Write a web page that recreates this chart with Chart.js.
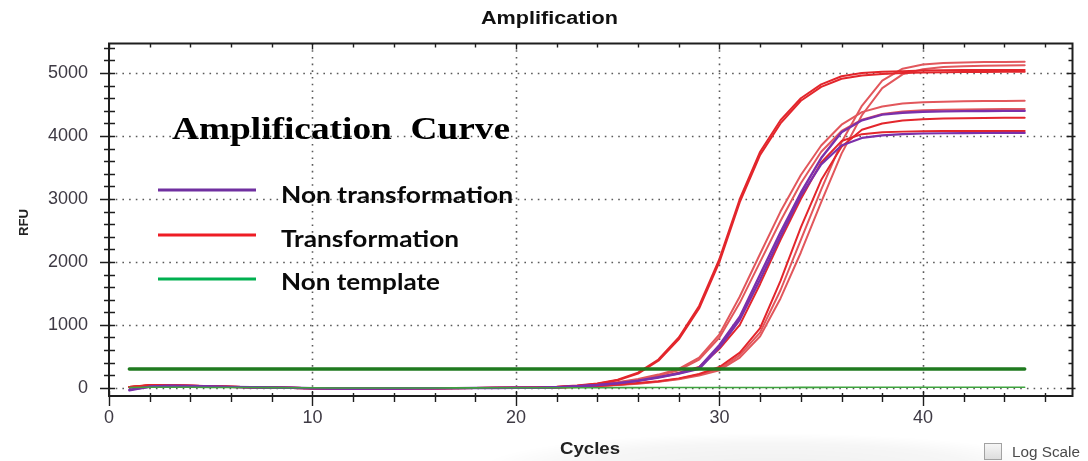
<!DOCTYPE html>
<html>
<head>
<meta charset="utf-8">
<title>Amplification</title>
<script src="https://cdn.jsdelivr.net/npm/chart.js@4.4.1/dist/chart.umd.min.js"></script>
<style>
  html, body { margin: 0; padding: 0; background: #ffffff; }
  #wrap { position: relative; width: 1088px; height: 461px; }
  canvas { display: block; }
</style>
</head>
<body>
<div id="wrap"><canvas id="amp" width="1088" height="461"></canvas></div>
<script>
// ---- qPCR amplification data (RFU per cycle) ----
const cycles = [1,2,3,4,5,6,7,8,9,10,11,12,13,14,15,16,17,18,19,20,21,22,23,24,25,26,27,28,29,30,31,32,33,34,35,36,37,38,39,40,41,42,43,44,45];

// Transformation wells (red)
const transA1 = [15,45,40,35,25,15,10,5,0,-5,-10,-10,-10,-8,-8,-5,-5,-3,0,2, 5,15,35,70,130,240,450,800,1300,2050,3000,3750,4250,4600,4820,4950,5000,5020,5030,5040,5045,5048,5050,5050,5050];
const transA2 = [10,40,42,33,24,16,9,4,-2,-6,-12,-12,-10,-10,-8,-6,-4,-2,0,3, 4,12,30,65,120,225,430,770,1260,2000,2950,3700,4200,4560,4780,4910,4960,4985,5000,5008,5013,5016,5018,5020,5020];
const transB1 = [12,35,38,30,22,14,9,4,-1,-5,-9,-11,-11,-9,-8,-6,-4,-3,-1,1, 0,12,30,55,90,140,210,300,480,850,1450,2130,2800,3380,3850,4180,4380,4470,4515,4535,4545,4552,4556,4558,4560];
const transB2 = [8,30,36,32,23,15,8,3,-2,-7,-11,-12,-11,-10,-9,-7,-5,-3,-1,0, 0,10,28,50,85,130,195,280,450,800,1350,2000,2650,3250,3750,4080,4260,4350,4390,4410,4418,4423,4426,4428,4430];
const transR1 = [14,38,36,30,22,14,9,5,0,-5,-9,-10,-10,-9,-7,-5,-4,-2,0,1, 0,10,25,45,75,115,170,240,330,620,1000,1650,2350,3000,3580,3920,4030,4060,4070,4075,4078,4080,4080,4080,4080];
const transC1 = [10,35,34,30,24,16,10,5,0,-6,-10,-11,-11,-9,-8,-6,-4,-3,-1,0, 0,5,15,30,50,75,105,150,220,330,560,950,1700,2550,3300,3830,4100,4200,4245,4265,4278,4284,4287,4289,4290];
const transC2 = [12,40,38,31,23,15,9,4,-1,-6,-10,-11,-10,-9,-8,-6,-4,-2,0,1, 0,5,14,28,48,72,100,145,210,300,520,880,1550,2350,3150,3900,4480,4880,5070,5135,5160,5170,5176,5178,5180];
const transC3 = [9,33,35,29,21,14,8,3,-2,-7,-11,-12,-11,-10,-8,-6,-5,-3,-1,0, 0,4,12,25,44,66,95,135,195,280,480,820,1420,2150,2950,3720,4330,4760,4980,5060,5095,5110,5118,5122,5125];

// Non transformation wells (purple)
const nonTransP1 = [-40,20,32,30,22,15,8,4,0,-6,-10,-12,-10,-10,-8,-6,-5,-3,-2,0, 0,10,25,45,75,115,170,230,320,680,1130,1800,2470,3100,3650,4060,4250,4340,4370,4385,4392,4396,4398,4400,4400];
const nonTransP2 = [-30,15,28,28,20,13,7,3,-1,-7,-11,-12,-11,-9,-8,-6,-4,-3,-1,0, 0,8,22,42,70,108,160,225,300,640,1080,1720,2400,3050,3550,3850,3970,4010,4030,4040,4044,4047,4048,4050,4050];

// Non template control (green)
const nonTemplate = [5,8,10,8,6,5,4,3,2,0,-2,-3,-3,-3,-2,-2,-1,-1,0,0, 0,1,2,2,3,3,4,4,5,5,5,6,6,7,7,8,8,8,9,9,10,10,10,10,10];

// Threshold line
const thresholdRFU = 300;
const thresholdCycles = [1, 45];

// Axis ticks
const xTickValues = [0, 10, 20, 30, 40];
const yTickValues = [0, 1000, 2000, 3000, 4000, 5000];
const xMinorStep = 2;
const yMinorStep = 200;

// Legend
const legendLabels = ["Non transformation", "Transformation", "Non template"];
const legendColors = ["#7030a0", "#ee1c24", "#00b050"];

const RED = "#e3262c";
const PINK = "#e2575c";
const PURPLE = "#7b30aa";

function toPoints(values) {
  return values.map((v, i) => ({ x: cycles[i], y: v }));
}

function curve(values, color, width) {
  return {
    data: toPoints(values),
    borderColor: color,
    borderWidth: width,
    pointRadius: 0,
    tension: 0,
    fill: false
  };
}

const datasets = [
  {
    data: thresholdCycles.map(c => ({ x: c, y: thresholdRFU })),
    borderColor: "#1f7a1f",
    borderWidth: 3.5,
    pointRadius: 0,
    fill: false
  },
  curve(nonTemplate, "#3fa33f", 1.6),
  curve(nonTransP1, PURPLE, 2.4),
  curve(nonTransP2, PURPLE, 2.2),
  curve(transA1, RED, 2),
  curve(transA2, RED, 2),
  curve(transB1, PINK, 2),
  curve(transB2, PINK, 2),
  curve(transR1, RED, 2),
  curve(transC1, RED, 2),
  curve(transC2, PINK, 2),
  curve(transC3, PINK, 2)
];

// Draws text with a horizontal scale so it spans a given width
function fitText(ctx, text, x, y, width, font, color) {
  ctx.save();
  ctx.font = font;
  ctx.fillStyle = color;
  ctx.textAlign = "left";
  ctx.textBaseline = "alphabetic";
  const w = ctx.measureText(text).width;
  ctx.translate(x, y);
  ctx.scale(width / w, 1);
  ctx.fillText(text, 0, 0);
  ctx.restore();
}

// Soft grey swoosh behind the x-axis title
const backdrop = {
  id: "backdrop",
  beforeDraw(chart) {
    const { ctx } = chart;
    ctx.save();
    ctx.translate(770, 468);
    ctx.scale(1, 0.12);
    const rg = ctx.createRadialGradient(0, 0, 0, 0, 0, 290);
    rg.addColorStop(0, "rgba(0,0,0,0.06)");
    rg.addColorStop(0.7, "rgba(0,0,0,0.035)");
    rg.addColorStop(1, "rgba(0,0,0,0)");
    ctx.fillStyle = rg;
    ctx.beginPath();
    ctx.arc(0, 0, 290, 0, Math.PI * 2);
    ctx.fill();
    ctx.restore();
  }
};

// Dotted grid at the labelled ticks
const dottedGrid = {
  id: "dottedGrid",
  beforeDatasetsDraw(chart) {
    const { ctx, chartArea: a, scales: { x, y } } = chart;
    ctx.save();
    ctx.strokeStyle = "#5a5a5a";
    ctx.lineWidth = 1.6;
    ctx.setLineDash([1.6, 5.1]);
    xTickValues.forEach(v => {
      const px = Math.round(x.getPixelForValue(v)) + 0.5;
      if (px <= a.left + 2) return;
      ctx.beginPath();
      ctx.moveTo(px, a.top);
      ctx.lineTo(px, a.bottom);
      ctx.stroke();
    });
    yTickValues.forEach(v => {
      const py = Math.round(y.getPixelForValue(v)) + 0.5;
      ctx.beginPath();
      ctx.moveTo(a.left, py);
      ctx.lineTo(a.right, py);
      ctx.stroke();
    });
    ctx.restore();
  }
};

// Frame, tick marks, titles, legend and the log-scale box
const decorations = {
  id: "decorations",
  afterDraw(chart) {
    const { ctx, chartArea: a, scales: { x, y } } = chart;
    ctx.save();
    ctx.strokeStyle = "#1e1e1e";
    ctx.lineWidth = 1.4;

    // x ticks (bottom and top)
    for (let v = 0; v <= x.max; v += xMinorStep) {
      const px = Math.round(x.getPixelForValue(v)) + 0.5;
      const major = v % 10 === 0;
      ctx.beginPath();
      ctx.moveTo(px, a.bottom - (major ? 5 : 3));
      ctx.lineTo(px, a.bottom + (major ? 10 : 6));
      ctx.moveTo(px, a.top);
      ctx.lineTo(px, a.top + (major ? 6 : 4));
      ctx.stroke();
    }
    // y ticks (left and right)
    for (let v = 0; v <= y.max; v += yMinorStep) {
      const py = Math.round(y.getPixelForValue(v)) + 0.5;
      const major = v % 1000 === 0;
      ctx.beginPath();
      ctx.moveTo(a.left - (major ? 9 : 5), py);
      ctx.lineTo(a.left + 6, py);
      ctx.moveTo(a.right - (major ? 6 : 4), py);
      ctx.lineTo(a.right + (major ? 3 : 0), py);
      ctx.stroke();
    }

    // frame
    ctx.lineWidth = 2;
    ctx.strokeRect(a.left, a.top, a.right - a.left, a.bottom - a.top);
    ctx.restore();

    // chart title and axis titles
    fitText(ctx, "Amplification", 481, 24, 137, "bold 18px 'Liberation Sans', Arial, sans-serif", "#111111");
    fitText(ctx, "Cycles", 560, 454, 60, "bold 16px 'Liberation Sans', Arial, sans-serif", "#222222");
    ctx.save();
    ctx.translate(28, 236);
    ctx.rotate(-Math.PI / 2);
    fitText(ctx, "RFU", 0, 0, 27, "bold 13px 'Liberation Sans', Arial, sans-serif", "#222222");
    ctx.restore();

    // in-plot heading
    fitText(ctx, "Amplification  Curve", 172, 139, 338, "bold 32px 'Liberation Serif', 'Times New Roman', serif", "#000000");

    // legend
    const legendY = [190, 235, 279];
    const legendBase = [203, 247, 290];
    const legendW = [232, 178, 159];
    legendLabels.forEach((label, i) => {
      ctx.save();
      ctx.strokeStyle = legendColors[i];
      ctx.lineWidth = 3;
      ctx.beginPath();
      ctx.moveTo(158, legendY[i]);
      ctx.lineTo(256, legendY[i]);
      ctx.stroke();
      ctx.restore();
      fitText(ctx, label, 281, legendBase[i], legendW[i], "bold 23px Lato, 'Open Sans', sans-serif", "#0a0a0a");
    });

    // Log Scale checkbox
    ctx.save();
    const g = ctx.createLinearGradient(0, 443, 0, 460);
    g.addColorStop(0, "#f7f7f7");
    g.addColorStop(1, "#dcdcdc");
    ctx.fillStyle = g;
    ctx.fillRect(984.5, 443.5, 17, 16);
    ctx.strokeStyle = "#a2a2a2";
    ctx.lineWidth = 1;
    ctx.strokeRect(984.5, 443.5, 17, 16);
    ctx.restore();
    fitText(ctx, "Log Scale", 1012, 457, 68, "14px 'Liberation Sans', Arial, sans-serif", "#4a4a4a");
  }
};

new Chart(document.getElementById("amp"), {
  type: "line",
  data: { datasets },
  options: {
    responsive: false,
    animation: false,
    devicePixelRatio: 1,
    layout: { padding: { top: 43.5, right: 15.5, bottom: 0, left: 0 } },
    plugins: {
      legend: { display: false },
      title: { display: false },
      tooltip: { enabled: false }
    },
    elements: { line: { borderCapStyle: "round", borderJoinStyle: "round" } },
    scales: {
      x: {
        type: "linear",
        min: 0,
        max: 47.35,
        afterBuildTicks: s => { s.ticks = xTickValues.map(v => ({ value: v })); },
        afterFit: s => { s.height = 65; },
        grid: { display: false, drawTicks: false },
        border: { display: false },
        ticks: {
          padding: 11,
          maxRotation: 0,
          autoSkip: false,
          color: "#3e3a44",
          callback: v => String(v),
          font: { family: "'Liberation Sans', Arial, sans-serif", size: 18 }
        }
      },
      y: {
        type: "linear",
        min: -130,
        max: 5470,
        afterBuildTicks: s => { s.ticks = yTickValues.map(v => ({ value: v })); },
        afterFit: s => { s.width = 109; },
        grid: { display: false, drawTicks: false },
        border: { display: false },
        ticks: {
          padding: 21,
          color: "#3e3a44",
          callback: v => String(v),
          font: { family: "'Liberation Sans', Arial, sans-serif", size: 18 }
        }
      }
    }
  },
  plugins: [backdrop, dottedGrid, decorations]
});
</script>
</body>
</html>
